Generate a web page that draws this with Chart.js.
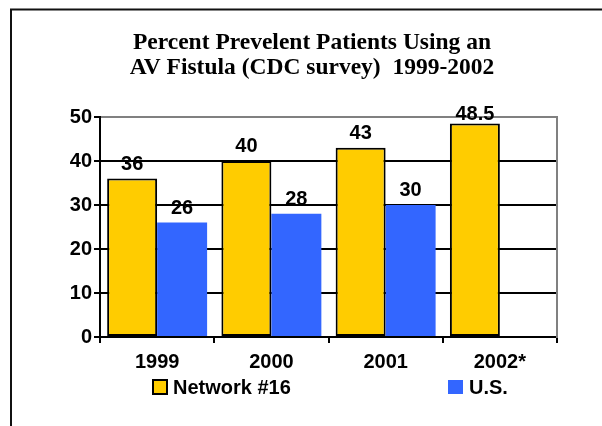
<!DOCTYPE html>
<html>
<head>
<meta charset="utf-8">
<script src="https://cdn.jsdelivr.net/npm/chart.js@4.4.1/dist/chart.umd.min.js"></script>
<style>
  html, body { margin: 0; padding: 0; background: #fff; }
  canvas { display: block; }
</style>
</head>
<body>
<canvas id="fistulaChart" width="602" height="426"></canvas>
<script>
// data
const categories = ['1999', '2000', '2001', '2002*'];
const network16 = [36, 40, 43, 48.5];
const usValues = [26, 28, 30, null];
const seriesNames = ['Network #16', 'U.S.'];
const titleLines = ['Percent Prevelent Patients Using an', 'AV Fistula (CDC survey)  1999-2002'];
const yMax = 50;
const yStep = 10;

const labelFont = { family: "'Liberation Sans', Arial, sans-serif", size: 20, weight: 'bold' };

// white page + the slide frame (top and left edges only)
const framePlugin = {
  id: 'frame',
  beforeDraw(chart) {
    const ctx = chart.ctx;
    ctx.save();
    ctx.fillStyle = '#fff';
    ctx.fillRect(0, 0, chart.width, chart.height);
    ctx.strokeStyle = '#111';
    ctx.lineWidth = 2;
    ctx.beginPath();
    ctx.moveTo(chart.width, 9.5);
    ctx.lineTo(11, 9.5);
    ctx.lineTo(11, chart.height);
    ctx.stroke();
    ctx.restore();
  }
};

// value labels above each bar
const valueLabels = {
  id: 'valueLabels',
  afterDatasetsDraw(chart) {
    const ctx = chart.ctx;
    ctx.save();
    ctx.font = 'bold 20px "Liberation Sans", Arial, sans-serif';
    ctx.fillStyle = '#000';
    ctx.textAlign = 'center';
    ctx.textBaseline = 'alphabetic';
    chart.data.datasets.forEach((ds, i) => {
      chart.getDatasetMeta(i).data.forEach((bar, j) => {
        const v = ds.data[j];
        if (v == null) return;
        const y = Math.max(bar.y - 9, chart.chartArea.top + 3);
        ctx.fillText(String(v), bar.x, y);
      });
    });
    ctx.restore();
  }
};

// legend spread under the axis like the original
const spreadLegend = {
  id: 'spreadLegend',
  afterDraw(chart) {
    const ctx = chart.ctx;
    const left = chart.chartArea.left;
    const offsets = [52, 348];
    ctx.save();
    ctx.font = 'bold 20px "Liberation Sans", Arial, sans-serif';
    ctx.textBaseline = 'middle';
    ctx.textAlign = 'left';
    chart.data.datasets.forEach((ds, i) => {
      const x = left + offsets[i];
      const bw = ds.borderWidth || 0;
      ctx.fillStyle = ds.backgroundColor;
      if (bw) {
        ctx.fillRect(x, 379, 16, 16);
        ctx.strokeStyle = '#000';
        ctx.lineWidth = 2;
        ctx.strokeRect(x + 1, 380, 14, 14);
      } else {
        ctx.fillRect(x, 380, 15, 14);
      }
      ctx.fillStyle = '#000';
      ctx.fillText(ds.label, x + 21, 388);
    });
    ctx.restore();
  }
};

new Chart(document.getElementById('fistulaChart'), {
  type: 'bar',
  data: {
    labels: categories,
    datasets: [
      {
        label: seriesNames[0],
        data: network16,
        backgroundColor: '#FFCC00',
        borderColor: '#000',
        borderWidth: 2,
        borderSkipped: false
      },
      {
        label: seriesNames[1],
        data: usValues,
        backgroundColor: '#3366FF',
        borderWidth: 0
      }
    ]
  },
  options: {
    responsive: false,
    animation: false,
    layout: { padding: { left: 22, right: 0, top: 0, bottom: 0 } },
    datasets: {
      bar: { categoryPercentage: 0.875, barPercentage: 1 }
    },
    plugins: {
      legend: { display: false },
      tooltip: { enabled: false },
      title: {
        display: true,
        text: titleLines,
        color: '#000',
        font: { family: "'Liberation Serif', 'Times New Roman', serif", size: 23.5, weight: 'bold', lineHeight: '25px' },
        padding: { top: 30, bottom: 37 }
      }
    },
    scales: {
      x: {
        grid: { drawOnChartArea: false, drawTicks: true, tickLength: 6, color: '#000', lineWidth: 2 },
        border: { color: '#000', width: 2 },
        ticks: { color: '#000', font: labelFont, padding: 7, maxRotation: 0, autoSkip: false },
        afterFit(scale) { scale.height = 89; }
      },
      y: {
        min: 0,
        max: yMax,
        ticks: { stepSize: yStep, color: '#000', font: labelFont, padding: 2 },
        grid: {
          color: ctx => (ctx.tick && ctx.tick.value === yMax ? '#808080' : '#000'),
          tickColor: '#000',
          lineWidth: 2,
          tickLength: 6
        },
        border: { color: '#000', width: 2 },
        afterFit(scale) { scale.width = 78; }
      },
      // right edge of the plot area
      yRight: {
        position: 'right',
        min: 0,
        max: yMax,
        grid: { display: false },
        ticks: { display: false },
        border: { display: true, color: '#808080', width: 2 },
        afterFit(scale) { scale.width = 45; }
      }
    }
  },
  plugins: [framePlugin, valueLabels, spreadLegend]
});
</script>
</body>
</html>
